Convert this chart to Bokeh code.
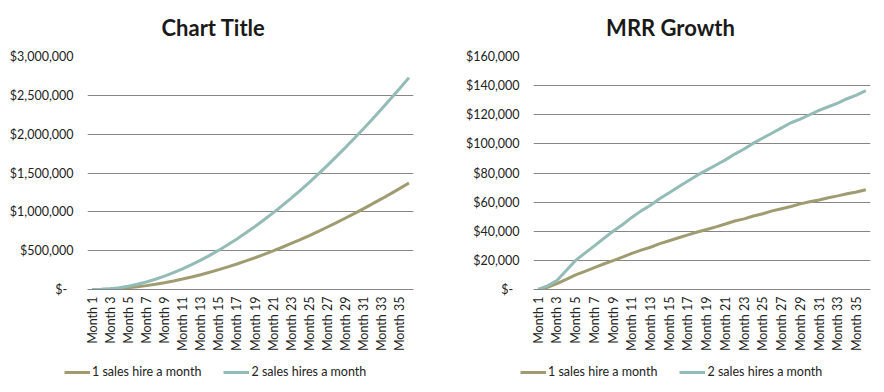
from bokeh.plotting import figure
from bokeh.layouts import row, column
from bokeh.models import (Range1d, FixedTicker, CustomJSTickFormatter,
                          Legend, LegendItem, Label)
from bokeh.embed import file_html
from bokeh.resources import INLINE

# ---------------- data ----------------
month_numbers = list(range(1, 37))          # Month 1 .. Month 36
label_months = list(range(1, 37, 2))        # labelled months: 1, 3, ..., 35

cum_one_hire = [0, 1500, 5500, 12500, 22500, 35000, 50000, 67500, 87300, 109500,
                134300, 161300, 190300, 221800, 255300, 290800, 328300, 367800, 409000, 452000,
                497000, 544000, 592500, 643000, 695000, 749000, 804500, 861500, 920300, 980500,
                1042000, 1105000, 1169300, 1235000, 1302000, 1370500]
cum_two_hires = [0, 2500, 8700, 21700, 41700, 66700, 96700, 131700, 171700, 216200,
                 265700, 319700, 377500, 440000, 506500, 577000, 651500, 730000, 812000, 897500,
                 986500, 1079500, 1176000, 1276500, 1380500, 1488000, 1599000, 1713500, 1830500, 1950500,
                 2073500, 2199000, 2327000, 2458000, 2591500, 2728000]

mrr_one_hire = [0, 1500, 4000, 7000, 10000, 12500, 15000, 17500, 19800, 22200,
                24800, 27000, 29000, 31500, 33500, 35500, 37500, 39500, 41200, 43000,
                45000, 47000, 48500, 50500, 52000, 54000, 55500, 57000, 58800, 60200,
                61500, 63000, 64300, 65700, 67000, 68500]
mrr_two_hires = [0, 2500, 6200, 13000, 20000, 25000, 30000, 35000, 40000, 44500,
                 49500, 54000, 57800, 62500, 66500, 70500, 74500, 78500, 82000, 85500,
                 89000, 93000, 96500, 100500, 104000, 107500, 111000, 114500, 117000, 120000,
                 123000, 125500, 128000, 131000, 133500, 136500]

left_ticks = [0, 500000, 1000000, 1500000, 2000000, 2500000, 3000000]
right_ticks = [0, 20000, 40000, 60000, 80000, 100000, 120000, 140000, 160000]

series_names = ["1 sales hire a month", "2 sales hires a month"]
left_title = "Chart Title"
right_title = "MRR Growth"

# ---------------- style ----------------
FONT = "Lato"
TAN = "#A09C71"
TEAL = "#93BCB7"
GRID = "#868686"
TEXT = "#222222"
FULL_W = 884
W = 442
TITLE_H = 46
LEG_H = 34
CHART_H = 392 - TITLE_H - LEG_H
NAN = float("nan")

yfmt = CustomJSTickFormatter(code="""
if (tick == 0) { return "$-\\u00a0\\u00a0"; }
return "$" + Math.round(tick).toLocaleString("en-US");
""")
xfmt = CustomJSTickFormatter(code='return "Month " + tick;')


def strip(h):
    s = figure(width=FULL_W, height=h, x_range=Range1d(0, FULL_W), y_range=Range1d(0, h),
               output_backend="svg", toolbar_location=None,
               x_axis_type=None, y_axis_type=None,
               min_border=0, min_border_left=0, min_border_right=0,
               min_border_top=0, min_border_bottom=0)
    s.outline_line_color = None
    s.xgrid.visible = False
    s.ygrid.visible = False
    return s


def chart(y_end, ticks, s1, s2, border_left, border_right):
    p = figure(x_range=Range1d(0.5, 36.5), y_range=Range1d(0, y_end),
               width=W, height=CHART_H, output_backend="svg", toolbar_location=None,
               min_border_left=border_left, min_border_right=border_right,
               min_border_top=10, min_border_bottom=69)
    p.outline_line_color = None
    p.line(month_numbers, s1, line_color=TAN, line_width=3)
    p.line(month_numbers, s2, line_color=TEAL, line_width=3)

    p.yaxis.ticker = FixedTicker(ticks=ticks)
    p.yaxis.formatter = yfmt
    p.yaxis.axis_line_color = None
    p.yaxis.major_tick_line_color = None
    p.yaxis.minor_tick_line_color = None
    p.yaxis.major_tick_out = 0
    p.yaxis.major_label_standoff = 14
    p.yaxis.major_label_text_font = FONT
    p.yaxis.major_label_text_font_size = "12.5px"
    p.yaxis.major_label_text_color = TEXT
    p.ygrid.grid_line_color = GRID
    p.ygrid.ticker = FixedTicker(ticks=ticks)

    p.xgrid.grid_line_color = None
    p.xaxis.ticker = FixedTicker(ticks=label_months)
    p.xaxis.formatter = xfmt
    p.xaxis.axis_line_color = GRID
    p.xaxis.major_tick_line_color = None
    p.xaxis.minor_tick_line_color = None
    p.xaxis.major_tick_out = 0
    p.xaxis.major_label_orientation = 3.14159265 / 2
    p.xaxis.major_label_standoff = 7
    p.xaxis.major_label_text_font = FONT
    p.xaxis.major_label_text_font_size = "12.5px"
    p.xaxis.major_label_text_color = TEXT
    return p


# titles
t = strip(TITLE_H)
for txt, cx in [(left_title, 213), (right_title, 670)]:
    t.add_layout(Label(x=cx, y=TITLE_H - 27, text=txt, text_align="center",
                       text_baseline="alphabetic", text_font=FONT,
                       text_font_style="bold", text_font_size="22px",
                       text_color="#1a1a1a"))

p1 = chart(3000000, left_ticks, cum_one_hire, cum_two_hires, 87, 29)
p2 = chart(160000, right_ticks, mrr_one_hire, mrr_two_hires, 91, 14)

# legends
lg = strip(LEG_H)
k1 = lg.line([NAN], [NAN], line_color=TAN, line_width=3)
k2 = lg.line([NAN], [NAN], line_color=TEAL, line_width=3)
for lx in [64, 520]:
    lg.add_layout(Legend(items=[LegendItem(label=series_names[0], renderers=[k1]),
                                LegendItem(label=series_names[1], renderers=[k2])],
                         location=(lx, 13), orientation="horizontal",
                         padding=0, margin=0, spacing=22, label_standoff=2,
                         glyph_width=26, glyph_height=14, label_height=14,
                         label_text_font=FONT, label_text_font_size="12.5px",
                         label_text_color=TEXT, border_line_color=None,
                         background_fill_alpha=0))

layout = column(t, row(p1, p2, spacing=0), lg, spacing=0)
open("out.html", "w").write(file_html(layout, INLINE))
